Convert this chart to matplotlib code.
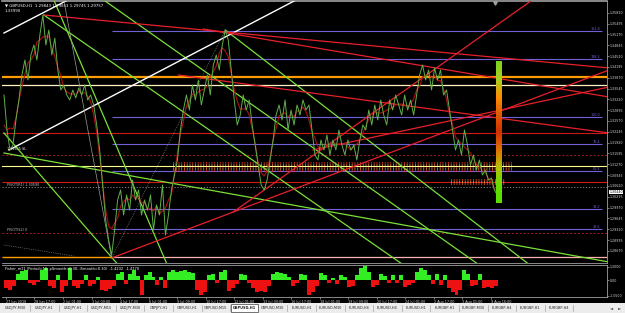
import numpy as np
import pandas as pd
import matplotlib
matplotlib.use("Agg")
import matplotlib.pyplot as plt
import matplotlib.transforms as mtransforms
from matplotlib.colors import LinearSegmentedColormap
from matplotlib.patches import Rectangle

# ---- data (bar index, price) ----
CLOSE_STEP = 3  # bars between samples
closes = [
    1.3335, 1.3230, 1.3170, 1.3185, 1.3260, 1.3320, 1.3395, 1.3440, 1.3380, 1.3455,
    1.3485, 1.3440, 1.3515, 1.3575, 1.3485, 1.3530, 1.3455, 1.3506, 1.3410, 1.3350,
    1.3365, 1.3335, 1.3320, 1.3350, 1.3326, 1.3356, 1.3335, 1.3365, 1.3320, 1.3335,
    1.3305, 1.3245, 1.3170, 1.3065, 1.2960, 1.2900, 1.2855, 1.2930, 1.3020, 1.3050,
    1.2975, 1.3035, 1.2990, 1.3080, 1.3020, 1.3050, 1.2975, 1.3020, 1.2990, 1.3035,
    1.2930, 1.3005, 1.2975, 1.3065, 1.2915, 1.2975, 1.3050, 1.3095, 1.3140, 1.3230,
    1.3290, 1.3335, 1.3290, 1.3365, 1.3320, 1.3380, 1.3305, 1.3350, 1.3395, 1.3335,
    1.3425, 1.3455, 1.3410, 1.3485, 1.3530, 1.3500, 1.3410, 1.3320, 1.3245, 1.3275,
    1.3335, 1.3290, 1.3320, 1.3245, 1.3185, 1.3125, 1.3065, 1.3050, 1.3080, 1.3140,
    1.3200, 1.3275, 1.3305, 1.3260, 1.3320, 1.3230, 1.3290, 1.3245, 1.3305, 1.3275,
    1.3320, 1.3290, 1.3305, 1.3230, 1.3155, 1.3140, 1.3200, 1.3170, 1.3215, 1.3155,
    1.3200, 1.3170, 1.3230, 1.3185, 1.3155, 1.3200, 1.3170, 1.3185, 1.3140, 1.3200,
    1.3245, 1.3230, 1.3290, 1.3245, 1.3305, 1.3260, 1.3320, 1.3275, 1.3245, 1.3320,
    1.3290, 1.3335, 1.3305, 1.3275, 1.3335, 1.3290, 1.3320, 1.3275, 1.3335, 1.3395,
    1.3425, 1.3380, 1.3410, 1.3350, 1.3416, 1.3380, 1.3410, 1.3335, 1.3350, 1.3290,
    1.3230, 1.3170, 1.3200, 1.3155, 1.3230, 1.3185, 1.3125, 1.3155, 1.3110, 1.3140,
    1.3095, 1.3110, 1.3080, 1.3086, 1.3050, 1.3035, 1.3020,
]

FISHER_STEP = 4
fisher = [
    -0.8, -1.0, -0.6, 0.6, 0.9, 1.0, -0.3, -0.5, -0.2, 1.0,
    1.2, -0.6, -0.8, 0.5, -1.2, -0.6, 1.2, -0.6, -0.8, -0.4,
    0.5, -0.6, -0.4, 0.3, -1.0, -1.1, -0.9, -0.6, 0.6, 0.8,
    -0.4, 0.6, 1.0, 0.4, -1.5, 0.5, 0.8, 0.3, -0.5, 0.3,
    -0.8, 0.8, 1.0, 0.8, 0.9, 1.0, 0.8, 0.7, -1.0, -1.5,
    -1.2, 0.5, 0.6, -0.3, 0.8, 1.0, -1.1, -0.8, -0.4, 0.6,
    0.5, -0.3, -0.8, -1.2, -1.1, -1.2, -0.6, 0.6, 0.8, 0.7,
    0.6, 0.3, -0.6, -0.3, 0.6, 0.5, -1.5, -1.2, -0.6, 0.7,
    0.5, -0.3, 0.2, -0.4, 0.5, 0.3, -0.7, -0.6, 0.5, 1.2,
    1.4, 0.8, -0.7, -0.5, 0.6, 0.4, -0.3, 0.5, -0.3, 0.5,
    -0.7, -0.5, -0.3, 0.8, 1.2, 1.0, 0.5, -0.4, 0.6, -0.5,
    0.5, -0.8, -1.2, -1.5, -1.0, 1.0, 0.6, -0.6, -0.5, 0.6,
    -0.8, -0.7, -0.8, -0.6,
]

# trend lines: ((bar, price), (bar, price))
green_lines = [
    ((50, 1.3620), (163, 1.2831)),
    ((40, 1.3575), (398, 1.2831)),
    ((100, 1.3620), (474, 1.2831)),
    ((222, 1.3530), (525, 1.2831)),
    ((0, 1.3161), (607, 1.2834)),
    ((0, 1.3221), (113, 1.2831)),
]
white_lines = [
    ((0, 1.3521), (64, 1.3620)),
    ((5, 1.3170), (293, 1.3620)),
]
red_lines = [
    ((40, 1.3575), (607, 1.3416)),
    ((200, 1.3533), (607, 1.3329)),
    ((175, 1.3395), (607, 1.3221)),
    ((230, 1.2984), (530, 1.3620)),
    ((108, 1.2846), (607, 1.3410)),
    ((310, 1.3170), (607, 1.3359)),
]
grey_solid = [((60, 1.3620), (108, 1.2846))]
grey_dotted = [((108, 1.2846), (222, 1.3530)), ((0, 1.2885), (70, 1.2852))]

# horizontal levels
fib_levels = [1.3527, 1.3443, 1.3269, 1.3188, 1.3107, 1.2993, 1.2933]
fib_names = ["161.8", "138.2", "100.0", "76.4", "61.8", "38.2", "23.6"]
orange_level = 1.3389
cream_level = 1.3365
red_levels = [1.3221, 1.3074]
darkred_dotted_levels = [1.3155, 1.2921]
yellow_level = 1.3122
pivot_level = 1.3059
low_level = 1.2849
band_main = [1.3131, 1.3125, 1.3119, 1.3113, 1.3107]
band_low = [1.3080, 1.3074, 1.3068]
bar_top, bar_bottom = 1.3437, 1.3011
bar_colors = ["#7ed321", "#a8d020", "#ff8c00", "#e05a00", "#d03000",
              "#e07000", "#b8c000", "#66dd00", "#55e000"]
bid_price = 1.3044

price_ticks = np.arange(1.35820, 1.2835, -0.00325)
ind_ticks = [1.3, 0.0, -1.55]

date_labels = ["27 Jun 2018", "28 Jun 17:00", "2 Jul 01:00", "3 Jul 09:00", "4 Jul 17:00",
               "6 Jul 01:00", "9 Jul 09:00", "10 Jul 17:00", "12 Jul 01:00", "13 Jul 09:00",
               "16 Jul 17:00", "18 Jul 01:00", "19 Jul 09:00", "20 Jul 17:00", "24 Jul 01:00",
               "2 Aug 17:00", "3 Aug 01:00", "9 Aug 16:00"]
tabs = ["USDJPY,M30", "USDJPY,H1", "USDJPY,H1", "USDJPY,M15", "USDJPY,M30",
        "GBPJPY,H1", "GBPUSD,H1", "GBPUSD,M15", "GBPUSD,H1", "GBPUSD,M30",
        "EURUSD,H1", "EURUSD,M30", "EURUSD,H4", "EURUSD,H4", "EURUSD,H1",
        "EURGBP,H1", "EURGBP,M30", "EURGBP,H4", "EURGBP,H1", "EURGBP,H4"]
active_tab = 8

W, H = 625, 313
fig = plt.figure(figsize=(W / 100, H / 100), dpi=100, facecolor="black")
ax = fig.add_axes([2 / W, 1 - 263 / H, 605 / W, 262 / H], facecolor="black")
ax_ind = fig.add_axes([2 / W, 1 - 297 / H, 605 / W, 32 / H], facecolor="black", sharex=ax)

x_close = np.arange(len(closes)) * CLOSE_STEP
close_series = pd.Series(closes)
ma = close_series.rolling(5, center=True, min_periods=1).mean()

# horizontal levels
ax.axhline(orange_level, color="#ff9c00", lw=1.6, zorder=2)
ax.axhline(cream_level, color="#fff0c0", lw=0.9, zorder=2)
ax.hlines(fib_levels, 108, 600, color="#7060d8", lw=0.8, zorder=2)
for lvl, name in zip(fib_levels, fib_names):
    ax.text(598, lvl, name, color="#7060d8", fontsize=2.4, ha="right", va="bottom")
ax.hlines(red_levels, -2, 605, color="#d01818", lw=0.8, zorder=2)
ax.hlines(darkred_dotted_levels, -2, 605, color="#a02020", lw=0.7, linestyles=(0, (2, 2)), zorder=2)
ax.axhline(yellow_level, color="#ffff90", lw=0.8, zorder=3)
ax.axhline(pivot_level, color="#909090", lw=0.6, linestyle=(0, (1.5, 2)), zorder=2)
ax.hlines(low_level, -2, 108, color="#ff9c00", lw=1.0, zorder=2)
ax.hlines(low_level, 108, 605, color="#ffb0b0", lw=0.9, zorder=2)

# dotted volume bands
for i, lvl in enumerate(band_main):
    ax.hlines(lvl, 170, 510, color=["#ff3020", "#ff9040"][i % 2], lw=1.1,
              linestyles=(0, (0.6, 1.2)), zorder=2)
for i, lvl in enumerate(band_low):
    ax.hlines(lvl, 448, 503, color=["#ff5020", "#ffa050"][i % 2], lw=1.1,
              linestyles=(0, (0.6, 1.2)), zorder=2)

# trend lines
for lines, col, lw, ls in [(green_lines, "#7ae03a", 0.9, "-"),
                           (white_lines, "#ffffff", 1.0, "-"),
                           (red_lines, "#e8202a", 0.9, "-"),
                           (grey_solid, "#9a9a9a", 0.5, "-"),
                           (grey_dotted, "#9a9a9a", 0.5, ":")]:
    for (x0, y0), (x1, y1) in lines:
        ax.plot([x0, x1], [y0, y1], color=col, lw=lw, ls=ls, zorder=4)

# price and smoothing
ax.plot(x_close, ma, color="#b01010", lw=0.8, zorder=5)
ax.plot(x_close, closes, color="#5fb048", lw=0.7, zorder=6)

# gradient bar
cmap = LinearSegmentedColormap.from_list("grad", bar_colors)
ax.imshow(np.linspace(0, 1, 100).reshape(-1, 1), cmap=cmap, aspect="auto",
          extent=[494, 500, bar_bottom, bar_top], origin="upper", zorder=7)

ax.set_xlim(-2, 605)
ax.set_ylim(1.2831, 1.3617)

# price scale on the right
ax.yaxis.tick_right()
ax.set_yticks(price_ticks)
ax.set_yticklabels([f"{v:.5f}" for v in price_ticks])
ax.tick_params(axis="y", colors="#d8d8d8", labelsize=2.3, length=1.2, width=0.4, pad=1.0)
ax.tick_params(axis="x", bottom=False, labelbottom=False)
for side, sp in ax.spines.items():
    sp.set_color("#a0a0a0")
    sp.set_linewidth(0.6)
ax.spines["left"].set_visible(False)
ax.spines["top"].set_linewidth(1.2)

trans = mtransforms.blended_transform_factory(ax.transAxes, ax.transData)
ax.text(1.004, bid_price, f"{bid_price:.5f}", transform=trans, fontsize=2.3, color="black",
        va="center", ha="left", bbox=dict(boxstyle="square,pad=0.1", fc="white", ec="none"))
ax.plot([493], [1.3612], marker="v", color="#a0a0a0", ms=2.5, zorder=8)

ax.text(0.005, 0.992, "\u25bc GBPUSD,H1  1.29843 1.29863 1.29745 1.29757", transform=ax.transAxes,
        color="white", fontsize=2.8, va="top", ha="left")
ax.text(0.005, 0.968, "1.33990", transform=ax.transAxes, color="white", fontsize=2.8,
        va="top", ha="left")
ax.text(3, 1.3167, "1.31665 SL", color="white", fontsize=2.4, va="bottom")
ax.text(3, pivot_level, "PIVOT(R1) 1.30590", color="#c0c0c0", fontsize=2.4, va="bottom")
ax.text(3, 1.2923, "PIVOT(S2) 0", color="#c0c0c0", fontsize=2.4, va="bottom")

# Fisher histogram
x_fish = np.arange(len(fisher)) * FISHER_STEP
ax_ind.bar(x_fish, fisher, width=FISHER_STEP, align="edge", linewidth=0,
           color=["#33ee22" if v > 0 else "#ee1111" for v in fisher])
ax_ind.set_ylim(-1.7, 1.5)
ax_ind.yaxis.tick_right()
ax_ind.set_yticks(ind_ticks)
ax_ind.set_yticklabels([f"{v:.4f}" if v else "0.00" for v in ind_ticks])
ax_ind.tick_params(axis="y", colors="#d8d8d8", labelsize=2.3, length=1.2, width=0.4, pad=1.0)
date_pos = np.arange(len(date_labels)) * 28.6 + 2
ax_ind.set_xticks(date_pos)
ax_ind.set_xticklabels(date_labels, ha="left")
ax_ind.tick_params(axis="x", colors="#d8d8d8", labelsize=2.4, length=1.5, width=0.4, pad=0.8)
for sp in ax_ind.spines.values():
    sp.set_color("#a0a0a0")
    sp.set_linewidth(0.6)
ax_ind.spines["left"].set_visible(False)
ax_ind.text(0.005, 0.95, "Fisher_m11 (Period=10, pSmooth=0.30, iSmooth=0.30)  -1.4232  -1.4170",
            transform=ax_ind.transAxes, color="white", fontsize=2.6, va="top", ha="left")

# tab bar
tab_ax = fig.add_axes([0, 0, 1, 10 / H], facecolor="#ececec")
tab_ax.set_xlim(0, W)
tab_ax.set_ylim(0, 10)
tab_ax.axis("off")
tab_ax.add_patch(Rectangle((0, 0), W, 10, color="#ececec"))
for i, name in enumerate(tabs):
    left = 2 + i * 28.6
    if i == active_tab:
        tab_ax.add_patch(Rectangle((left, 0.8), 27, 8.4, fc="white", ec="#404040", lw=0.5))
    else:
        tab_ax.plot([left + 28, left + 28], [2, 8], color="#909090", lw=0.4)
    tab_ax.text(left + 13.5, 5, name, fontsize=2.5, ha="center", va="center",
                color="#202020", fontweight="bold" if i == active_tab else "normal")
tab_ax.text(612, 5, "\u25c4", fontsize=3, ha="center", va="center", color="#404040")
tab_ax.text(620, 5, "\u25ba", fontsize=3, ha="center", va="center", color="#404040")

fig.savefig("out.png", dpi=100, facecolor="black")
